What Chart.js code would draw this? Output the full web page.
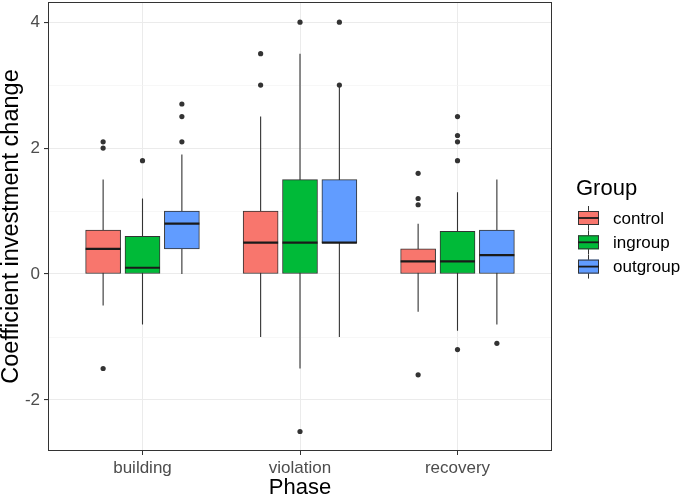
<!DOCTYPE html>
<html>
<head>
<meta charset="utf-8">
<script src="https://cdn.jsdelivr.net/npm/chart.js@4"></script>
<style>
  html, body { margin: 0; padding: 0; background: #fff; }
  #wrap { width: 685px; height: 500px; }
</style>
</head>
<body>
<div id="wrap"><canvas id="chart" width="685" height="500"></canvas></div>
<script>
// Data
const categories = ['building', 'violation', 'recovery'];
const groups = ['control', 'ingroup', 'outgroup'];
const groupColors = ['#F8766D', '#00BA38', '#619CFF'];
const yTicks = [-2, 0, 2, 4];
const yMinorTicks = [-1, 1, 3];

// [group][phase]
const lowerWhisker = [[-0.5, -1.0, -0.6], [-0.8, -1.5, -0.9], [0, -1.0, -0.8]];
const q1 = [[0, 0, 0], [0, 0, 0], [0.4, 0.5, 0]];
const median = [[0.4, 0.5, 0.2], [0.1, 0.5, 0.2], [0.8, 0.5, 0.3]];
const q3 = [[0.7, 1.0, 0.4], [0.6, 1.5, 0.68], [1.0, 1.5, 0.7]];
const upperWhisker = [[1.5, 2.5, 0.8], [1.2, 3.5, 1.3], [1.9, 3.0, 1.5]];
const outliers = [
  [[2.1, 2.0, -1.5], [3.5, 3.0], [1.6, 1.2, 1.1, -1.6]],
  [[1.8], [4.0, -2.5], [2.5, 2.2, 2.1, 1.8, -1.2]],
  [[2.7, 2.5, 2.1], [4.0, 3.0], [-1.1]]
];

const dodge = [-0.25, 0, 0.25];
const FONT = "'Liberation Sans', Arial, sans-serif";

function xPos(g, p) { return p + 1 + dodge[g]; }

const datasets = [];
groups.forEach((name, g) => {
  // whiskers (drawn behind the box)
  const wData = [];
  categories.forEach((c, p) => {
    wData.push({ x: xPos(g, p), y: lowerWhisker[g][p] });
    wData.push({ x: xPos(g, p), y: upperWhisker[g][p] });
    wData.push({ x: xPos(g, p), y: null });
  });
  datasets.push({
    type: 'line', label: name + ' whisker', data: wData, order: 3,
    borderColor: '#333333', borderWidth: 1.1, pointRadius: 0, spanGaps: false
  });
  // box
  datasets.push({
    type: 'bar', label: name,
    data: categories.map((c, p) => ({ x: xPos(g, p), y: [q1[g][p], q3[g][p]] })),
    backgroundColor: groupColors[g], borderColor: '#333333', borderWidth: 1,
    borderSkipped: false, barThickness: 35, grouped: false, order: 2
  });
  // median
  datasets.push({
    type: 'scatter', label: name + ' median',
    data: categories.map((c, p) => ({ x: xPos(g, p), y: median[g][p] })),
    pointStyle: 'line', pointRadius: 17.5, borderColor: '#1A1A1A', borderWidth: 2.2, order: 1
  });
  // outliers
  const oData = [];
  categories.forEach((c, p) => {
    outliers[g][p].forEach(v => oData.push({ x: xPos(g, p), y: v }));
  });
  datasets.push({
    type: 'scatter', label: name + ' outliers', data: oData,
    pointRadius: 2.6, backgroundColor: '#333333', borderWidth: 0, order: 0
  });
});

// panel border + legend
const extras = {
  id: 'extras',
  afterDraw(chart) {
    const ctx = chart.ctx;
    const a = chart.chartArea;
    ctx.save();
    ctx.strokeStyle = '#333333';
    ctx.lineWidth = 1;
    ctx.strokeRect(a.left + 0.5, a.top + 0.5, a.right - a.left - 1, a.bottom - a.top - 1);

    // legend
    ctx.fillStyle = '#000';
    ctx.font = '22px ' + FONT;
    ctx.textBaseline = 'alphabetic';
    ctx.textAlign = 'left';
    ctx.fillText('Group', 576, 195);
    groups.forEach((name, g) => {
      const cy = 218 + g * 24.3;
      const x0 = 578, x1 = 599, cx = 588.5;
      ctx.strokeStyle = '#333333';
      ctx.lineWidth = 1;
      ctx.beginPath();
      ctx.moveTo(cx, cy - 12); ctx.lineTo(cx, cy + 12);
      ctx.stroke();
      ctx.fillStyle = groupColors[g];
      ctx.fillRect(x0, cy - 7, x1 - x0, 14);
      ctx.strokeRect(x0 + 0.5, cy - 7 + 0.5, x1 - x0 - 1, 13);
      ctx.strokeStyle = '#1A1A1A';
      ctx.lineWidth = 1.8;
      ctx.beginPath();
      ctx.moveTo(x0, cy); ctx.lineTo(x1, cy);
      ctx.stroke();
      ctx.fillStyle = '#000';
      ctx.font = '17px ' + FONT;
      ctx.textBaseline = 'middle';
      ctx.fillText(name, 613, cy + 1);
    });
    ctx.restore();
  }
};

new Chart(document.getElementById('chart'), {
  type: 'bar',
  data: { datasets },
  plugins: [extras],
  options: {
    responsive: false,
    animation: false,
    events: [],
    layout: { autoPadding: false, padding: { top: 2, right: 133, left: 0, bottom: 0 } },
    plugins: { legend: { display: false }, tooltip: { enabled: false } },
    scales: {
      x: {
        type: 'linear', min: 0.4, max: 3.6, offset: false,
        afterBuildTicks: s => { s.ticks = categories.map((c, i) => ({ value: i + 1 })); },
        afterFit: s => { s.height = 49; s.paddingLeft = 0; s.paddingRight = 0; },
        ticks: {
          callback: v => categories[v - 1], color: '#4D4D4D',
          font: { family: FONT, size: 17 }, padding: 3, maxRotation: 0
        },
        grid: { offset: false, color: '#EBEBEB', lineWidth: 1, tickColor: '#333333', tickLength: 4 },
        border: { display: false },
        title: { display: true, text: 'Phase', color: '#000', font: { family: FONT, size: 22, lineHeight: 1.1 }, padding: 0 }
      },
      y: {
        type: 'linear', min: -2.81, max: 4.32,
        afterBuildTicks: s => { s.ticks = yTicks.concat(yMinorTicks).sort((a, b) => a - b).map(v => ({ value: v })); },
        afterFit: s => { s.width = 48; s.paddingTop = 0; s.paddingBottom = 0; },
        ticks: {
          callback: v => yTicks.includes(v) ? String(v) : '', color: '#4D4D4D',
          font: { family: FONT, size: 17 }, padding: 4
        },
        grid: {
          color: c => yTicks.includes(c.tick.value) ? '#EBEBEB' : '#F4F4F4',
          lineWidth: c => yTicks.includes(c.tick.value) ? 1.1 : 0.7,
          tickColor: c => yTicks.includes(c.tick.value) ? '#333333' : 'rgba(0,0,0,0)',
          tickLength: 4
        },
        border: { display: false },
        title: { display: true, text: 'Coefficient investment change', color: '#000', font: { family: FONT, size: 23.5, lineHeight: 1 }, padding: 0 }
      }
    }
  }
});
</script>
</body>
</html>
